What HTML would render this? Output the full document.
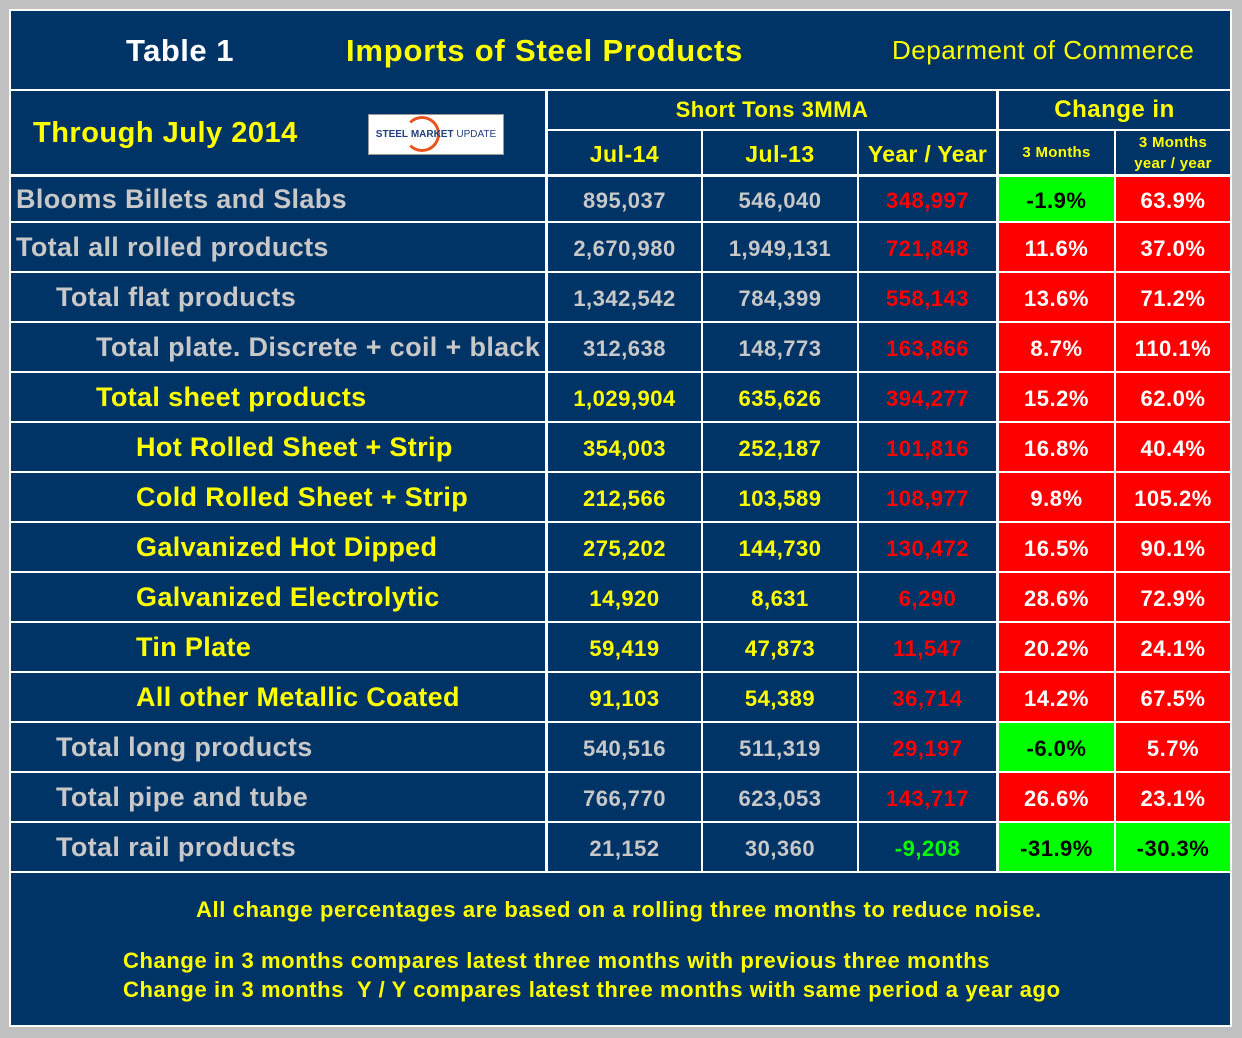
<!DOCTYPE html>
<html><head><meta charset="utf-8"><style>
body{margin:0;width:1242px;height:1038px;background:#c0c0c0;position:relative;overflow:hidden;font-family:"Liberation Sans",Arial,sans-serif;font-weight:bold}
#panel{position:absolute;left:9px;top:9px;width:1223px;height:1018px;background:#fff}
.c{position:absolute;background:#003366;display:flex;align-items:center;justify-content:center;box-sizing:border-box;white-space:nowrap;letter-spacing:0.5px}
.y{color:#ffff00}.g{color:#c8c8c8}.w{color:#fff}
</style></head><body>
<div id="panel"></div>
<div class="c" style="left:11px;top:11px;width:1219px;height:78px;justify-content:flex-start">
 <span class="w" style="position:absolute;left:115px;top:22px;font-size:31px;letter-spacing:0.5px">Table 1</span>
 <span class="y" style="position:absolute;left:335px;top:22px;font-size:31px;letter-spacing:0.8px">Imports of Steel Products</span>
 <span class="y" style="position:absolute;left:881px;top:24px;font-size:26px;font-weight:normal;letter-spacing:0.5px">Deparment of Commerce</span>
</div>
<div class="c" style="left:11px;top:91px;width:534px;height:83px">
 <span class="y" style="position:absolute;left:22px;top:26px;font-size:29px;letter-spacing:0.5px">Through July 2014</span>
 <div style="position:absolute;left:357px;top:23px;width:134px;height:39px;background:#fff;border:1px solid #999;font-size:10px;letter-spacing:0;display:flex;align-items:center;justify-content:center;overflow:hidden">
  <div style="position:absolute;left:35px;top:1px;width:36px;height:36px;border-radius:50%;border:3px solid #e8541c;border-left-color:transparent;box-sizing:border-box"></div>
  <span style="position:relative;color:#1f3f7f">STEEL</span>&nbsp;<span style="position:relative;color:#1f3f7f">MARKET</span>&nbsp;<span style="position:relative;color:#1f3f7f;font-weight:normal">UPDATE</span>
 </div>
</div>
<div class="c y" style="left:548px;top:91px;width:448px;height:38px;font-size:22px">Short Tons 3MMA</div>
<div class="c y" style="left:999px;top:91px;width:231px;height:38px;font-size:24px">Change in</div>
<div class="c y" style="left:548px;top:131px;width:153px;height:43px;font-size:23px;padding-top:3px">Jul-14</div>
<div class="c y" style="left:703px;top:131px;width:154px;height:43px;font-size:23px;padding-top:3px">Jul-13</div>
<div class="c y" style="left:859px;top:131px;width:137px;height:43px;font-size:23px;padding-top:3px;letter-spacing:0.3px">Year / Year</div>
<div class="c y" style="left:999px;top:131px;width:115px;height:43px;font-size:15px;letter-spacing:0.3px">3 Months</div>
<div class="c y" style="left:1116px;top:131px;width:114px;height:43px;font-size:15px;line-height:21px;text-align:center;letter-spacing:0.3px">3 Months<br>year / year</div>
<div class="c y" style="left:11px;top:873px;width:1219px;height:152px;display:block;font-size:22px;letter-spacing:0.6px">
 <div style="position:absolute;left:185px;top:24px">All change percentages are based on a rolling three months to reduce noise.</div>
 <div style="position:absolute;left:112px;top:75px">Change in 3 months compares latest three months with previous three months</div>
 <div style="position:absolute;left:112px;top:104px">Change in 3 months&nbsp; Y / Y compares latest three months with same period a year ago</div>
</div>
<script>
const labels=["Blooms Billets and Slabs","Total all rolled products","Total flat products","Total plate. Discrete + coil + black","Total sheet products","Hot Rolled Sheet + Strip","Cold Rolled Sheet + Strip","Galvanized Hot Dipped","Galvanized Electrolytic","Tin Plate","All other Metallic Coated","Total long products","Total pipe and tube","Total rail products"];
const indents=[0,0,1,2,2,3,3,3,3,3,3,1,1,1];
const yellowRows=[0,0,0,0,1,1,1,1,1,1,1,0,0,0];
const jul14=["895,037","2,670,980","1,342,542","312,638","1,029,904","354,003","212,566","275,202","14,920","59,419","91,103","540,516","766,770","21,152"];
const jul13=["546,040","1,949,131","784,399","148,773","635,626","252,187","103,589","144,730","8,631","47,873","54,389","511,319","623,053","30,360"];
const yoy=["348,997","721,848","558,143","163,866","394,277","101,816","108,977","130,472","6,290","11,547","36,714","29,197","143,717","-9,208"];
const chg3=["-1.9%","11.6%","13.6%","8.7%","15.2%","16.8%","9.8%","16.5%","28.6%","20.2%","14.2%","-6.0%","26.6%","-31.9%"];
const chgYoy=["63.9%","37.0%","71.2%","110.1%","62.0%","40.4%","105.2%","90.1%","72.9%","24.1%","67.5%","5.7%","23.1%","-30.3%"];
const cols=[[11,534],[548,153],[703,154],[859,137],[999,115],[1116,114]];
function cell(x,w,y,h,txt,color,bg,fs){
 const d=document.createElement('div');d.className='c';
 d.style.cssText=`left:${x}px;top:${y}px;width:${w}px;height:${h}px;color:${color};font-size:${fs}px;padding-top:3px;`+(bg?`background:${bg};`:'');
 d.textContent=txt;document.body.appendChild(d);return d;}
labels.forEach((lab,i)=>{
 const y=i===0?177:223+50*(i-1), h=i===0?44:48;
 const tc=yellowRows[i]?'#ffff00':'#c8c8c8';
 const l=cell(cols[0][0],cols[0][1],y,h,lab,tc,null,27);
 l.style.justifyContent='flex-start';l.style.paddingLeft=(5+indents[i]*40)+'px';l.style.paddingTop='1px';l.style.letterSpacing='0.35px';
 
 
 const a=cell(cols[1][0],cols[1][1],y,h,jul14[i],tc,null,22);
 
 
 const b=cell(cols[2][0],cols[2][1],y,h,jul13[i],tc,null,22);
 
 
 const neg=yoy[i].startsWith('-');
 const c=cell(cols[3][0],cols[3][1],y,h,yoy[i],neg?'#00ff00':'#ff0000',null,22);
 
 
 const n1=chg3[i].startsWith('-');
 const d=cell(cols[4][0],cols[4][1],y,h,chg3[i],n1?'#000':'#fff',n1?'#00ff00':'#ff0000',22);
 
 
 const n2=chgYoy[i].startsWith('-');
 const e=cell(cols[5][0],cols[5][1],y,h,chgYoy[i],n2?'#000':'#fff',n2?'#00ff00':'#ff0000',22);
 
 
});
</script>
</body></html>
